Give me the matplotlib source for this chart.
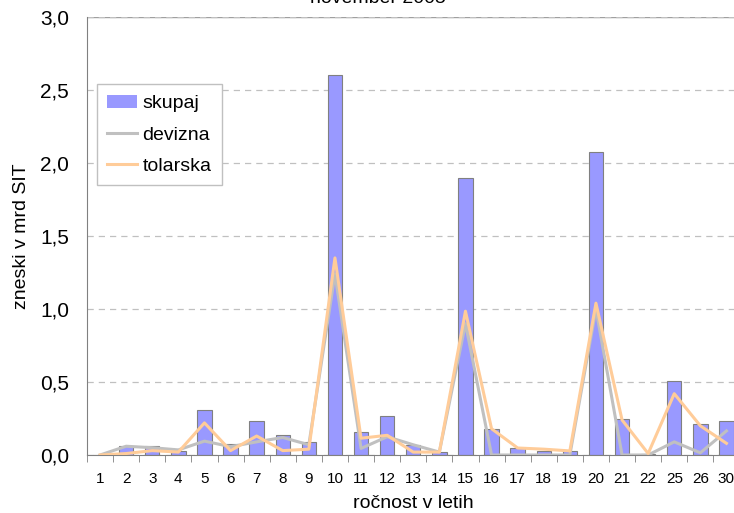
import matplotlib.pyplot as plt
import numpy as np

plt.rcParams['font.family'] = ['Liberation Sans', 'DejaVu Sans']

# ročnost v letih
labels = ['1', '2', '3', '4', '5', '6', '7', '8', '9', '10', '11', '12', '13',
          '14', '15', '16', '17', '18', '19', '20', '21', '22', '25', '26', '30']
skupaj = [0.0, 0.06, 0.06, 0.03, 0.31, 0.075, 0.23, 0.14, 0.09, 2.60, 0.155, 0.27, 0.07,
          0.02, 1.90, 0.175, 0.045, 0.03, 0.025, 2.075, 0.245, 0.005, 0.505, 0.21, 0.235]
devizna = [0.0, 0.06, 0.05, 0.035, 0.095, 0.057, 0.09, 0.12, 0.07, 1.24, 0.045, 0.125, 0.07,
           0.02, 0.90, 0.0, 0.0, 0.0, 0.0, 1.0, 0.0, 0.0, 0.09, 0.015, 0.165]
tolarska = [0.0, 0.01, 0.03, 0.02, 0.22, 0.03, 0.13, 0.03, 0.04, 1.35, 0.115, 0.135, 0.02,
            0.02, 0.985, 0.18, 0.048, 0.04, 0.028, 1.04, 0.24, 0.01, 0.42, 0.2, 0.08]

fig = plt.figure(figsize=(7.34, 5.13), dpi=100)
ax = fig.add_axes([87 / 734, 58 / 513, 652.5 / 734, 438 / 513])

x = np.arange(len(labels))
bars = ax.bar(x, skupaj, width=0.55, color='#9999FF', edgecolor='#808080', linewidth=0.8,
              zorder=2)
l1, = ax.plot(x, devizna, color='#C0C0C0', linewidth=2.2, zorder=3)
l2, = ax.plot(x, tolarska, color='#FFCC99', linewidth=2.2, zorder=4)

ax.set_xlim(-0.5, len(labels) - 0.5)
ax.set_ylim(0, 3.0)
yt = np.arange(0, 3.01, 0.5)
ax.set_yticks(yt)
ax.set_yticklabels([f'{v:.1f}'.replace('.', ',') for v in yt], fontsize=15)
ax.set_xticks(x)
ax.set_xticklabels(labels, fontsize=11)
ax.set_xticks(np.arange(-0.5, len(labels), 1), minor=True)
ax.tick_params(axis='x', which='major', length=0, pad=12)
ax.tick_params(axis='x', which='minor', length=5, color='#808080', direction='out')
ax.tick_params(axis='y', length=0, pad=13)

ax.yaxis.grid(True, color='#C0C0C0', linestyle=(0, (5, 4)), linewidth=0.9, zorder=0)
ax.axhline(3.0, color='#A0A0A0', linewidth=1.0, zorder=1)
for s in ['top', 'right']:
    ax.spines[s].set_visible(False)
for s in ['left', 'bottom']:
    ax.spines[s].set_color('#808080')

ax.set_ylabel('zneski v mrd SIT', fontsize=14, labelpad=7)
ax.set_xlabel('ročnost v letih', fontsize=14, labelpad=7)

leg = ax.legend([bars, l1, l2], ['skupaj', 'devizna', 'tolarska'],
                loc='upper left', bbox_to_anchor=(0.015, 0.847), borderaxespad=0,
                fontsize=14, fancybox=False, edgecolor='#C0C0C0', framealpha=1,
                handlelength=1.5, handletextpad=0.3, labelspacing=0.7,
                borderpad=0.55)
leg.legend_handles[0].set_edgecolor('none')

fig.text(0.515, 0.986, 'november 2005', fontsize=14, ha='center', va='bottom')

fig.savefig('out.png', dpi=100)
